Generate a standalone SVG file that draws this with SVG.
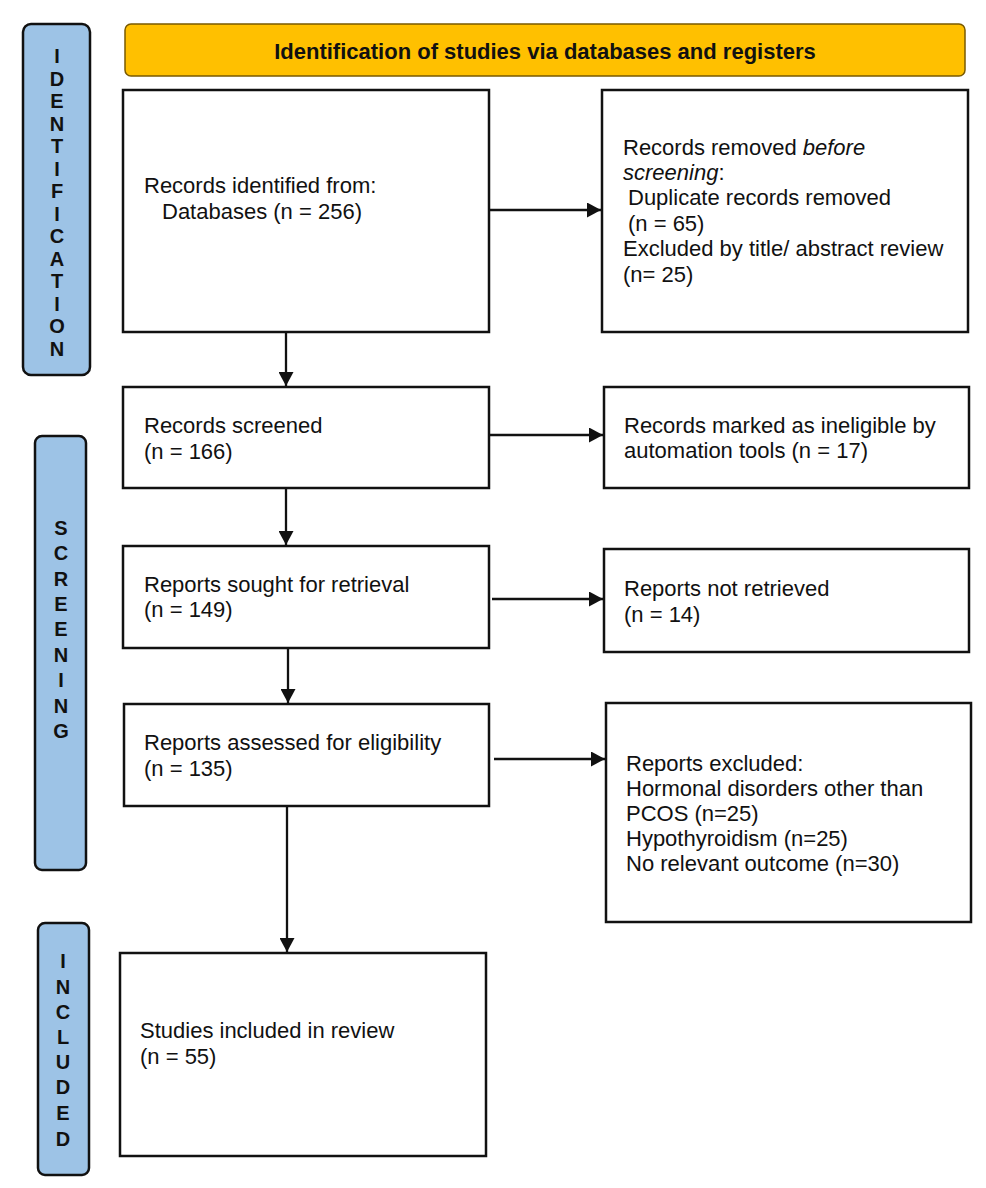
<svg xmlns="http://www.w3.org/2000/svg" width="986" height="1188" viewBox="0 0 986 1188">
<defs>
<style>
.bg{fill:#ffffff}
.box{fill:#ffffff;stroke:#111;stroke-width:2.5}
.side{fill:#9dc3e6;stroke:#111;stroke-width:2.5}
.hdr{fill:#ffc000;stroke:#7a5a00;stroke-width:1.5}
.t{font-family:"Liberation Sans",Arial,sans-serif;font-size:22px;fill:#111}
.ht{font-family:"Liberation Sans",Arial,sans-serif;font-size:22px;font-weight:bold;fill:#111;text-anchor:middle}
.st{font-family:"Liberation Sans",Arial,sans-serif;font-size:20px;font-weight:bold;fill:#111;text-anchor:middle}
.c{stroke:#111;stroke-width:2.3;fill:none;marker-end:url(#ah)}
</style>
<marker id="ah" viewBox="0 0 14 15" refX="14" refY="7.5" markerWidth="14" markerHeight="15" markerUnits="userSpaceOnUse" orient="auto">
<path d="M0,0 L14,7.5 L0,15 Z" fill="#111"/>
</marker>
</defs>
<rect class="bg" x="0" y="0" width="986" height="1188"/>

<g id="side-identification">
<rect class="side" x="23" y="24" width="67" height="351" rx="8"/>
<text class="st"><tspan x="57" y="63">I</tspan><tspan x="57" y="86">D</tspan><tspan x="57" y="108">E</tspan><tspan x="57" y="131">N</tspan><tspan x="57" y="153">T</tspan><tspan x="57" y="176">I</tspan><tspan x="57" y="198">F</tspan><tspan x="57" y="221">I</tspan><tspan x="57" y="243">C</tspan><tspan x="57" y="266">A</tspan><tspan x="57" y="288">T</tspan><tspan x="57" y="311">I</tspan><tspan x="57" y="333">O</tspan><tspan x="57" y="356">N</tspan></text>
</g>

<g id="side-screening">
<rect class="side" x="35" y="436" width="51" height="434" rx="7"/>
<text class="st"><tspan x="61" y="535">S</tspan><tspan x="61" y="560">C</tspan><tspan x="61" y="586">R</tspan><tspan x="61" y="611">E</tspan><tspan x="61" y="636">E</tspan><tspan x="61" y="662">N</tspan><tspan x="61" y="687">I</tspan><tspan x="61" y="713">N</tspan><tspan x="61" y="738">G</tspan></text>
</g>

<g id="side-included">
<rect class="side" x="38" y="923" width="51" height="252" rx="7"/>
<text class="st"><tspan x="63" y="968">I</tspan><tspan x="63" y="994">N</tspan><tspan x="63" y="1019">C</tspan><tspan x="63" y="1044">L</tspan><tspan x="63" y="1069">U</tspan><tspan x="63" y="1094">D</tspan><tspan x="63" y="1120">E</tspan><tspan x="63" y="1146">D</tspan></text>
</g>

<g id="header">
<rect class="hdr" x="125" y="24" width="840" height="52" rx="6"/>
<text class="ht" x="545" y="59">Identification of studies via databases and registers</text>
</g>

<g id="records-identified">
<rect class="box" x="123" y="90" width="366" height="242"/>
<text class="t"><tspan x="144" y="193">Records identified from:</tspan><tspan x="162" y="219">Databases (n = 256)</tspan></text>
</g>

<g id="records-removed">
<rect class="box" x="602" y="90" width="366" height="242"/>
<text class="t"><tspan x="623" y="155">Records removed <tspan font-style="italic">before</tspan></tspan><tspan x="623" y="180"><tspan font-style="italic">screening</tspan>:</tspan><tspan x="628" y="205">Duplicate records removed</tspan><tspan x="628" y="231">(n = 65)</tspan><tspan x="623" y="256">Excluded by title/ abstract review</tspan><tspan x="623" y="282">(n= 25)</tspan></text>
</g>

<g id="records-screened">
<rect class="box" x="123" y="387" width="366" height="101"/>
<text class="t"><tspan x="144" y="433">Records screened</tspan><tspan x="144" y="459">(n = 166)</tspan></text>
</g>

<g id="records-ineligible">
<rect class="box" x="604" y="387" width="365" height="101"/>
<text class="t"><tspan x="624" y="433">Records marked as ineligible by</tspan><tspan x="624" y="458">automation tools (n = 17)</tspan></text>
</g>

<g id="reports-sought">
<rect class="box" x="123" y="546" width="366" height="102"/>
<text class="t"><tspan x="144" y="592">Reports sought for retrieval</tspan><tspan x="144" y="617">(n = 149)</tspan></text>
</g>

<g id="reports-not-retrieved">
<rect class="box" x="604" y="549" width="365" height="103"/>
<text class="t"><tspan x="624" y="596">Reports not retrieved</tspan><tspan x="624" y="622">(n = 14)</tspan></text>
</g>

<g id="reports-assessed">
<rect class="box" x="124" y="704" width="365" height="102"/>
<text class="t"><tspan x="144" y="750">Reports assessed for eligibility</tspan><tspan x="144" y="776">(n = 135)</tspan></text>
</g>

<g id="reports-excluded">
<rect class="box" x="606" y="703" width="365" height="219"/>
<text class="t"><tspan x="626" y="771">Reports excluded:</tspan><tspan x="626" y="796">Hormonal disorders other than</tspan><tspan x="626" y="821">PCOS (n=25)</tspan><tspan x="626" y="846">Hypothyroidism (n=25)</tspan><tspan x="626" y="871">No relevant outcome (n=30)</tspan></text>
</g>

<g id="studies-included">
<rect class="box" x="120" y="953" width="366" height="203"/>
<text class="t"><tspan x="140" y="1038">Studies included in review</tspan><tspan x="140" y="1064">(n = 55)</tspan></text>
</g>

<g id="connectors">
<line class="c" x1="489" y1="210" x2="601" y2="210"/>
<line class="c" x1="489" y1="435" x2="603" y2="435"/>
<line class="c" x1="492" y1="599" x2="603" y2="599"/>
<line class="c" x1="494" y1="759" x2="605" y2="759"/>
<line class="c" x1="286" y1="332" x2="286" y2="386"/>
<line class="c" x1="286" y1="488" x2="286" y2="545"/>
<line class="c" x1="288" y1="648" x2="288" y2="703"/>
<line class="c" x1="287" y1="806" x2="287" y2="952"/>
</g>
</svg>
